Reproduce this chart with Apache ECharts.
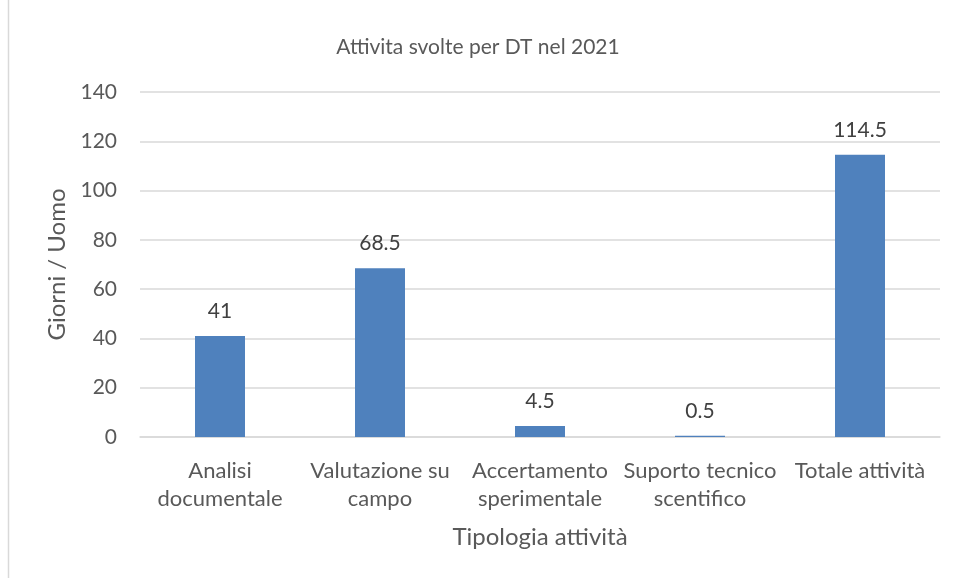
<!DOCTYPE html>
<html lang="it">

<head>
    <meta charset="UTF-8">
    <title>Attivita svolte per DT nel 2021</title>
    <script src="https://cdn.jsdelivr.net/npm/echarts@6/dist/echarts.min.js"></script>
    <style>
        html, body { margin: 0; padding: 0; background: #fff; }
        #chart { width: 956px; height: 578px; }
    </style>
</head>

<body>
    <div id="chart"></div>
</body>
<script type="text/javascript">
    // dati del grafico
    var categorie = ['Analisi\ndocumentale', 'Valutazione su\ncampo', 'Accertamento\nsperimentale', 'Suporto tecnico\nscentifico', 'Totale attività'];
    var giorni = [41, 68.5, 4.5, 0.5, 114.5];
    var tickY = [0, 20, 40, 60, 80, 100, 120, 140];

    var testo = '#595959';
    var font = 'Lato, "Open Sans", sans-serif';

    var chart = echarts.init(document.getElementById('chart'));
    chart.setOption({
        animation: false,
        color: ['#4F81BD'],
        textStyle: { fontFamily: font },
        title: {
            text: 'Attivita svolte per DT nel 2021',
            left: 'center',
            top: 32,
            textStyle: { fontSize: 21, fontWeight: 'normal', color: testo, fontFamily: font }
        },
        graphic: [{
            type: 'line',
            shape: { x1: 8.5, y1: 0, x2: 8.5, y2: 578 },
            style: { stroke: '#d9d9d9', lineWidth: 1.5 }
        }],
        grid: {
            left: 140,
            right: 16,
            top: 92,
            bottom: 141
        },
        xAxis: {
            type: 'category',
            data: categorie,
            name: 'Tipologia attività',
            nameLocation: 'middle',
            nameGap: 88,
            nameTextStyle: { fontSize: 24, color: testo, fontFamily: font },
            axisLine: { lineStyle: { color: '#d9d9d9', width: 1.5 } },
            axisTick: { show: false },
            axisLabel: {
                interval: 0,
                margin: 20,
                fontSize: 22,
                lineHeight: 28,
                color: testo,
                fontFamily: font
            }
        },
        yAxis: {
            type: 'value',
            min: tickY[0],
            max: tickY[tickY.length - 1],
            interval: 20,
            name: 'Giorni / Uomo',
            nameLocation: 'middle',
            nameGap: 70,
            nameTextStyle: { fontSize: 24, color: testo, fontFamily: font },
            axisLine: { show: false },
            axisTick: { show: false },
            axisLabel: { margin: 23, fontSize: 21, color: testo, fontFamily: font },
            splitLine: { lineStyle: { color: '#d9d9d9', width: 1.5 } }
        },
        series: [{
            name: 'Giorni / Uomo',
            type: 'bar',
            data: giorni,
            barWidth: 50,
            label: {
                show: true,
                position: 'top',
                distance: 14,
                fontSize: 21,
                color: '#404040',
                fontFamily: font
            }
        }]
    });
</script>

</html>
